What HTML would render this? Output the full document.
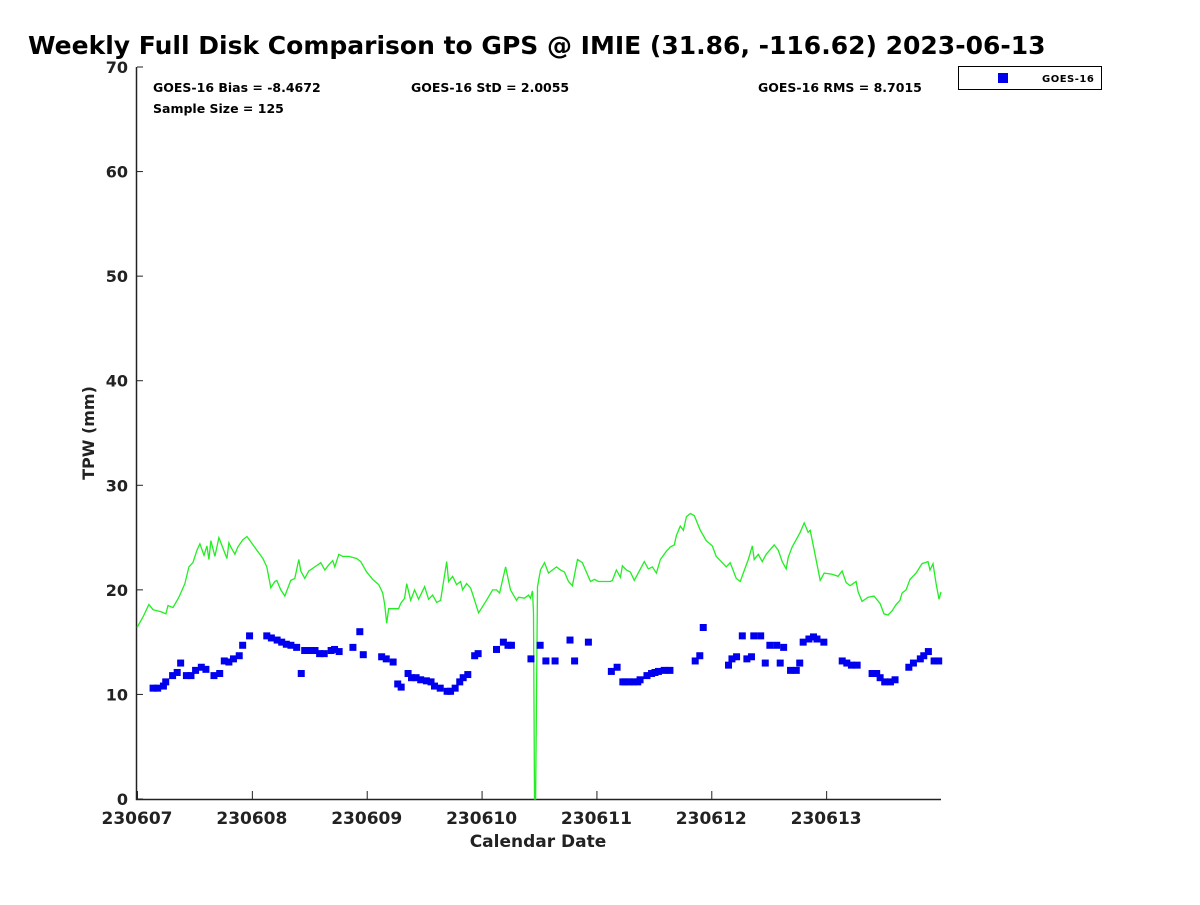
<!DOCTYPE html>
<html><head><meta charset="utf-8"><style>
body{margin:0;background:#fff;}
svg text{font-family:"DejaVu Sans","Liberation Sans",sans-serif;font-weight:bold;fill:#222;}
</style></head><body>
<svg id="chart" width="1200" height="900" xmlns="http://www.w3.org/2000/svg">
<rect width="1200" height="900" fill="#fff"/>
<text x="28" y="54" style="font-size:25px;fill:#000">Weekly Full Disk Comparison to GPS @ IMIE (31.86, -116.62) 2023-06-13</text>
<g id="plot"></g>
<text x="153" y="92" style="font-size:12.5px;fill:#000">GOES-16 Bias = -8.4672</text>
<text x="411" y="92" style="font-size:12.5px;fill:#000">GOES-16 StD = 2.0055</text>
<text x="758" y="92" style="font-size:12.5px;fill:#000">GOES-16 RMS = 8.7015</text>
<text x="153" y="113" style="font-size:12.5px;fill:#000">Sample Size = 125</text>
<g>
<rect x="958.5" y="66.5" width="143" height="23" fill="#fff" stroke="#000" stroke-width="1"/>
<rect x="998" y="73" width="10" height="10" fill="#0000ee"/>
<text x="1042" y="82" style="font-size:10px;fill:#000;letter-spacing:0.5px">GOES-16</text>
</g>
<text x="538" y="847" text-anchor="middle" style="font-size:17px">Calendar Date</text>
<text transform="translate(94,433) rotate(-90)" text-anchor="middle" style="font-size:16px">TPW (mm)</text>
</svg>
<script>
const xTickLabels=["230607","230608","230609","230610","230611","230612","230613"];
const yTickLabels=[0,10,20,30,40,50,60,70];
const goesDays=[.14,.18,.23,.25,.31,.35,.38,.43,.47,.51,.56,.60,.67,.72,.76,.80,.84,.89,.92,.98,1.13,1.17,1.22,1.26,1.30,1.34,1.39,1.43,1.46,1.51,1.55,1.59,1.63,1.69,1.72,1.76,1.88,1.94,1.97,2.13,2.17,2.23,2.27,2.30,2.36,2.39,2.43,2.47,2.52,2.56,2.59,2.64,2.70,2.73,2.77,2.81,2.84,2.88,2.94,2.97,3.13,3.19,3.23,3.26,3.43,3.51,3.56,3.64,3.77,3.81,3.93,4.13,4.18,4.23,4.25,4.29,4.32,4.36,4.38,4.44,4.48,4.51,4.54,4.59,4.64,4.86,4.90,4.93,5.15,5.18,5.22,5.27,5.31,5.35,5.37,5.43,5.47,5.51,5.57,5.60,5.63,5.69,5.74,5.77,5.80,5.85,5.89,5.92,5.98,6.14,6.18,6.22,6.27,6.40,6.44,6.47,6.51,6.56,6.60,6.72,6.76,6.82,6.85,6.89,6.94,6.98];
const goesTPW=[10.6,10.6,10.8,11.2,11.8,12.1,13.0,11.8,11.8,12.3,12.6,12.4,11.8,12.0,13.2,13.1,13.4,13.7,14.7,15.6,15.6,15.4,15.2,15.0,14.8,14.7,14.5,12.0,14.2,14.2,14.2,13.9,13.9,14.2,14.3,14.1,14.5,16.0,13.8,13.6,13.4,13.1,11.0,10.7,12.0,11.6,11.6,11.4,11.3,11.2,10.8,10.6,10.3,10.3,10.6,11.2,11.6,11.9,13.7,13.9,14.3,15.0,14.7,14.7,13.4,14.7,13.2,13.2,15.2,13.2,15.0,12.2,12.6,11.2,11.2,11.2,11.2,11.2,11.4,11.8,12.0,12.1,12.2,12.3,12.3,13.2,13.7,16.4,12.8,13.4,13.6,15.6,13.4,13.6,15.6,15.6,13.0,14.7,14.7,13.0,14.5,12.3,12.3,13.0,15.0,15.3,15.5,15.3,15.0,13.2,13.0,12.8,12.8,12.0,12.0,11.6,11.2,11.2,11.4,12.6,13.0,13.4,13.7,14.1,13.2,13.2];
const gpsDays=[0,.052,.104,.139,.209,.252,.27,.313,.365,.417,.452,.487,.522,.548,.583,.609,.626,.643,.678,.713,.748,.783,.8,.817,.852,.878,.922,.957,.991,1.043,1.096,1.13,1.165,1.2,1.217,1.252,1.287,1.339,1.374,1.409,1.426,1.461,1.496,1.548,1.6,1.635,1.67,1.704,1.722,1.757,1.791,1.843,1.913,1.948,2,2.052,2.104,2.139,2.157,2.174,2.191,2.226,2.278,2.296,2.33,2.348,2.383,2.417,2.452,2.504,2.539,2.574,2.609,2.643,2.696,2.713,2.748,2.783,2.817,2.835,2.87,2.904,2.922,2.974,3.043,3.096,3.13,3.157,3.209,3.252,3.304,3.322,3.374,3.409,3.426,3.443,3.452,3.461,3.47,3.487,3.513,3.548,3.583,3.617,3.652,3.687,3.722,3.757,3.791,3.835,3.878,3.913,3.948,3.983,4.017,4.122,4.139,4.174,4.209,4.226,4.261,4.296,4.33,4.383,4.417,4.452,4.487,4.522,4.557,4.609,4.643,4.678,4.696,4.73,4.757,4.783,4.817,4.852,4.904,4.957,5.009,5.043,5.096,5.13,5.165,5.217,5.252,5.322,5.357,5.374,5.409,5.443,5.478,5.548,5.583,5.617,5.652,5.67,5.704,5.739,5.774,5.809,5.843,5.861,5.896,5.948,5.983,6.052,6.104,6.139,6.174,6.209,6.261,6.278,6.313,6.365,6.417,6.47,6.504,6.539,6.574,6.609,6.643,6.661,6.696,6.73,6.783,6.835,6.887,6.904,6.93,6.957,6.983,7];
const gpsTPW=[16.4,17.4,18.6,18.1,17.9,17.7,18.5,18.3,19.3,20.6,22.2,22.6,23.8,24.4,23.3,24.2,22.9,24.7,23.2,25.0,24.0,23.0,24.5,24.1,23.4,24.1,24.8,25.1,24.6,23.8,23.0,22.2,20.2,20.8,20.9,20.0,19.4,20.9,21.1,22.9,21.8,21.1,21.8,22.2,22.6,21.9,22.4,22.8,22.2,23.4,23.2,23.2,23.0,22.7,21.7,21.0,20.5,19.7,18.6,16.8,18.2,18.2,18.2,18.7,19.2,20.6,19.0,20.0,19.1,20.3,19.1,19.5,18.8,19.0,22.7,20.8,21.3,20.5,20.8,20.0,20.6,20.2,19.6,17.8,19.0,20.0,20.0,19.7,22.2,20.0,19.0,19.3,19.2,19.5,19.2,19.9,17.8,0,0,20.3,21.9,22.6,21.6,21.9,22.2,21.9,21.7,20.8,20.4,22.9,22.6,21.7,20.8,21.0,20.8,20.8,20.9,21.9,21.2,22.3,21.9,21.7,20.9,22.0,22.7,22.0,22.2,21.6,22.9,23.7,24.1,24.3,25.2,26.1,25.7,27.0,27.3,27.1,25.7,24.7,24.2,23.2,22.6,22.2,22.6,21.1,20.8,22.9,24.2,22.9,23.4,22.7,23.4,24.3,23.8,22.7,22.0,23.1,24.1,24.8,25.5,26.4,25.5,25.7,23.8,20.9,21.6,21.5,21.3,21.8,20.7,20.4,20.8,19.8,18.9,19.3,19.4,18.7,17.7,17.6,18.0,18.6,19.0,19.7,20.0,21.0,21.6,22.5,22.7,21.9,22.5,20.6,19.1,19.8];

const svg=document.getElementById('chart'),plot=document.getElementById('plot');
const NS='http://www.w3.org/2000/svg';
const X0=137,X1=941,Y0=799,Y1=67;
const xs=d=>X0+(X1-X0)*d/7;
const ys=v=>Y0-(Y0-Y1)*v/70;
function mk(t,a){const e=document.createElementNS(NS,t);for(const k in a)e.setAttribute(k,a[k]);plot.appendChild(e);return e;}

const ax=mk('path',{d:`M${X0-0.5},${Y1} V${Y0+0.5} H${X1}`,fill:'none',stroke:'#222','stroke-width':1.5});



yTickLabels.forEach(v=>{
 const t=mk('line',{x1:X0,x2:X0+6,y1:ys(v),y2:ys(v),stroke:'#222','stroke-width':1});
 
 
 const l=mk('text',{x:X0-9,y:ys(v)+6,'text-anchor':'end','font-size':'16'});
 l.textContent=v;
 
 
});
xTickLabels.forEach((s,i)=>{
 const t=mk('line',{x1:xs(i)+0.5,x2:xs(i)+0.5,y1:Y0,y2:Y0-8,stroke:'#222','stroke-width':1});
 
 
 const l=mk('text',{x:xs(i),y:824,'text-anchor':'middle','font-size':'17'});
 l.textContent=s;
 
 
});

const line=mk('polyline',{points:gpsDays.map((d,i)=>xs(d).toFixed(1)+','+ys(gpsTPW[i]).toFixed(1)).join(' '),fill:'none',stroke:'#22ee22','stroke-width':1.3});



goesDays.forEach((d,i)=>{
 const r=mk('rect',{x:xs(d)-3.5,y:ys(goesTPW[i])-3.5,width:7,height:7,fill:'#0000ee'});
 
 
});
</script>
</body></html>
